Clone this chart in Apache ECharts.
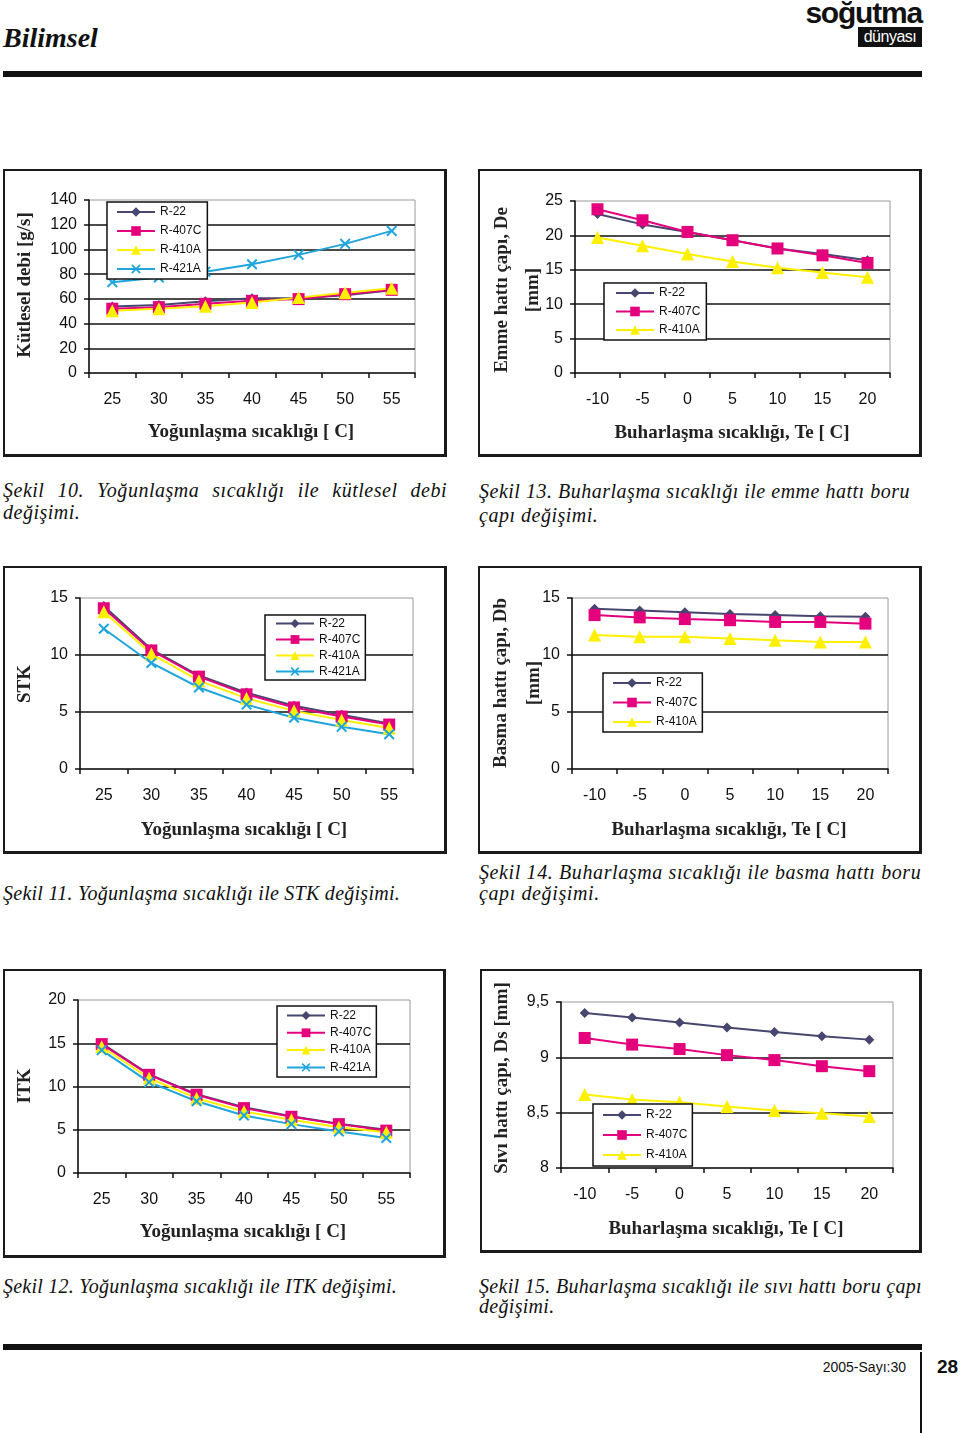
<!DOCTYPE html>
<html><head><meta charset="utf-8">
<script src="https://cdn.jsdelivr.net/npm/echarts@6/dist/echarts.min.js"></script>
<style>
html,body{margin:0;padding:0;background:#fff;}
#page{position:relative;width:960px;height:1433px;overflow:hidden;font-family:'Liberation Serif',serif;color:#111;}
.frame{position:absolute;border:2px solid #1a1a1a;border-right-width:3px;border-bottom-width:3px;box-sizing:border-box;background:#fff;}
.cap{position:absolute;font-style:italic;font-size:20px;line-height:22px;white-space:nowrap;color:#111;}
.j{text-align:justify;text-align-last:justify;}
.rule{position:absolute;background:#111;}
#chart{position:absolute;left:0;top:0;width:960px;height:1433px;}
</style></head>
<body><div id="page">
<div style="position:absolute;left:3px;top:20px;font:italic bold 28px 'Liberation Serif',serif;line-height:36px;">Bilimsel</div>
<div style="position:absolute;right:38px;top:-3px;font:bold 30px 'Liberation Sans',sans-serif;letter-spacing:-1.2px;line-height:32px;">soğutma</div>
<div style="position:absolute;left:858px;top:27px;width:64px;height:20px;background:#111;color:#fff;font:16px 'Liberation Sans',sans-serif;line-height:20px;text-align:center;letter-spacing:-0.5px;">dünyası</div>
<div class="rule" style="left:3px;top:71px;width:919px;height:6px;"></div>

<div class="frame" style="left:3px;top:169px;width:444px;height:288px;"></div>
<div class="frame" style="left:478px;top:169px;width:444px;height:288px;"></div>
<div class="frame" style="left:3px;top:566px;width:444px;height:288px;"></div>
<div class="frame" style="left:478px;top:566px;width:444px;height:288px;"></div>
<div class="frame" style="left:3px;top:969px;width:443px;height:289px;"></div>
<div class="frame" style="left:480px;top:969px;width:442px;height:284px;"></div>

<div id="c10a" class="cap j" data-ls="c13a" style="left:3px;top:479px;width:444px;">Şekil 10. Yoğunlaşma sıcaklığı ile kütlesel debi</div>
<div id="c10b" class="cap" data-ls="c13a" style="left:3px;top:501px;">değişimi.</div>
<div id="c13a" class="cap" data-fit="431" style="left:479px;top:480px;">Şekil 13. Buharlaşma sıcaklığı ile emme hattı boru</div>
<div id="c13b" class="cap" data-ls="c13a" style="left:479px;top:504px;">çapı değişimi.</div>
<div id="c11" class="cap" data-fit="397" style="left:3px;top:882px;">Şekil 11. Yoğunlaşma sıcaklığı ile STK değişimi.</div>
<div id="c14a" class="cap" data-fit="443" style="left:479px;top:861px;">Şekil 14.  Buharlaşma sıcaklığı ile basma hattı boru</div>
<div id="c14b" class="cap" data-ls="c14a" style="left:479px;top:882px;">çapı değişimi.</div>
<div id="c12" class="cap" data-fit="394" style="left:3px;top:1275px;">Şekil 12. Yoğunlaşma sıcaklığı ile ITK değişimi.</div>
<div id="c15a" class="cap" data-fit="443" style="left:479px;top:1275px;">Şekil 15. Buharlaşma sıcaklığı ile sıvı hattı boru çapı</div>
<div id="c15b" class="cap" data-ls="c15a" style="left:479px;top:1295px;">değişimi.</div>

<div class="rule" style="left:3px;top:1344px;width:919px;height:6px;"></div>
<div style="position:absolute;right:54px;top:1358px;font:14px 'Liberation Sans',sans-serif;line-height:18px;">2005-Sayı:30</div>
<div class="rule" style="left:920px;top:1352px;width:2px;height:81px;"></div>
<div style="position:absolute;left:937px;top:1355px;font:bold 19px 'Liberation Sans',sans-serif;line-height:24px;">28</div>

<div id="chart"></div>
</div>
<script>
// ---------- categories ----------
const condTemps = ['25', '30', '35', '40', '45', '50', '55'];
const evapTemps = ['-10', '-5', '0', '5', '10', '15', '20'];

// ---------- Şekil 10: Kütlesel debi [g/s] ----------
const massFlowR22   = [53.8, 55.0, 58.0, 60.5, 60.5, 63.0, 67.0];
const massFlowR407C = [52.0, 53.3, 56.0, 58.4, 59.8, 63.8, 67.3];
const massFlowR410A = [50.3, 52.0, 54.0, 57.0, 61.0, 65.0, 68.6];
const massFlowR421A = [73.5, 77.3, 82.0, 88.0, 95.6, 104.5, 115.0];

// ---------- Şekil 13: Emme hattı çapı De [mm] ----------
const suctionR22   = [23.1, 21.6, 20.5, 19.3, 18.1, 17.3, 16.4];
const suctionR407C = [23.8, 22.2, 20.5, 19.3, 18.1, 17.1, 16.0];
const suctionR410A = [19.7, 18.5, 17.3, 16.2, 15.3, 14.6, 13.9];

// ---------- Şekil 11: STK ----------
const stkR22   = [14.3, 10.5, 8.2, 6.7, 5.55, 4.75, 4.0];
const stkR407C = [14.1, 10.4, 8.1, 6.55, 5.4, 4.6, 3.9];
const stkR410A = [13.8, 10.1, 7.75, 6.2, 5.1, 4.3, 3.6];
const stkR421A = [12.3, 9.3, 7.15, 5.65, 4.5, 3.7, 3.05];

// ---------- Şekil 14: Basma hattı çapı Db [mm] ----------
const dischargeR22   = [14.05, 13.9, 13.75, 13.6, 13.5, 13.4, 13.35];
const dischargeR407C = [13.5, 13.3, 13.15, 13.05, 12.9, 12.9, 12.75];
const dischargeR410A = [11.75, 11.6, 11.6, 11.45, 11.3, 11.15, 11.15];

// ---------- Şekil 12: ITK ----------
const itkR22   = [15.0, 11.4, 9.1, 7.6, 6.55, 5.7, 5.0];
const itkR407C = [14.9, 11.35, 9.05, 7.5, 6.5, 5.65, 4.9];
const itkR410A = [14.6, 10.95, 8.65, 7.1, 6.15, 5.3, 4.7];
const itkR421A = [14.2, 10.5, 8.3, 6.65, 5.65, 4.8, 4.05];

// ---------- Şekil 15: Sıvı hattı çapı Ds [mm] ----------
const liquidR22   = [9.40, 9.36, 9.315, 9.27, 9.23, 9.19, 9.16];
const liquidR407C = [9.175, 9.115, 9.075, 9.02, 8.975, 8.92, 8.875];
const liquidR410A = [8.665, 8.62, 8.595, 8.555, 8.52, 8.495, 8.465];

// ---------- caption fitting (letter-spacing so each line spans its width) ----------
const lsMap = {};
document.querySelectorAll('.cap[data-fit]').forEach(el => {
  el.style.letterSpacing = '0px';
  const w = el.getBoundingClientRect().width;
  const n = el.textContent.length;
  const ls = (parseFloat(el.dataset.fit) - w) / n;
  lsMap[el.id] = ls;
  el.style.letterSpacing = ls + 'px';
});
document.querySelectorAll('.cap[data-ls]').forEach(el => {
  el.style.letterSpacing = (lsMap[el.dataset.ls] || 0) + 'px';
});

// ---------- styles ----------
const COLORS = {'R-22': '#46466f', 'R-407C': '#e4007c', 'R-410A': '#fff000', 'R-421A': '#1fa5dc'};
const SYMBOLS = {
  'R-22': 'diamond', 'R-407C': 'rect', 'R-410A': 'triangle',
  'R-421A': 'path://M0,1.3L1.3,0L5,3.7L8.7,0L10,1.3L6.3,5L10,8.7L8.7,10L5,6.3L1.3,10L0,8.7L3.7,5Z'
};
const SIZES = {'R-22': 10, 'R-407C': 12, 'R-410A': 13, 'R-421A': 11};

const charts = [
  { grid: {left: 89, top: 200, width: 326, height: 173}, cats: condTemps, min: 0, max: 140, interval: 20,
    series: [['R-22', massFlowR22], ['R-407C', massFlowR407C], ['R-410A', massFlowR410A], ['R-421A', massFlowR421A]],
    legend: {left: 107, top: 202, padding: [4, 6, 4, 9], itemHeight: 12, itemGap: 7},
    xTitle: {text: 'Yoğunlaşma sıcaklığı [ C]', x: 251, y: 432},
    yTitle: {text: 'Kütlesel debi [g/s]', x: 25, y: 285} },
  { grid: {left: 575, top: 201, width: 315, height: 172}, cats: evapTemps, min: 0, max: 25, interval: 5,
    series: [['R-22', suctionR22], ['R-407C', suctionR407C], ['R-410A', suctionR410A]],
    legend: {left: 604, top: 283, padding: [4, 6, 4, 11], itemHeight: 12, itemGap: 6.5},
    xTitle: {text: 'Buharlaşma sıcaklığı, Te [ C]', x: 732, y: 433},
    yTitle: {text: 'Emme hattı çapı, De\n[mm]', x: 518, y: 290, lineHeight: 31} },
  { grid: {left: 80, top: 598, width: 333, height: 171}, cats: condTemps, min: 0, max: 15, interval: 5,
    series: [['R-22', stkR22], ['R-407C', stkR407C], ['R-410A', stkR410A], ['R-421A', stkR421A]],
    legend: {left: 265, top: 615, padding: [2.5, 5, 2.5, 10], itemHeight: 11, itemGap: 4},
    xTitle: {text: 'Yoğunlaşma sıcaklığı [ C]', x: 244, y: 830},
    yTitle: {text: 'STK', x: 25, y: 684} },
  { grid: {left: 572, top: 598, width: 316, height: 171}, cats: evapTemps, min: 0, max: 15, interval: 5,
    series: [['R-22', dischargeR22], ['R-407C', dischargeR407C], ['R-410A', dischargeR410A]],
    legend: {left: 603, top: 673, padding: [4, 5, 4, 9], itemHeight: 12, itemGap: 7.5},
    xTitle: {text: 'Buharlaşma sıcaklığı, Te [ C]', x: 729, y: 830},
    yTitle: {text: 'Basma hattı çapı, Db\n[mm]', x: 517.5, y: 683, lineHeight: 33} },
  { grid: {left: 78, top: 1000, width: 332, height: 173}, cats: condTemps, min: 0, max: 20, interval: 5,
    series: [['R-22', itkR22], ['R-407C', itkR407C], ['R-410A', itkR410A], ['R-421A', itkR421A]],
    legend: {left: 277, top: 1006, padding: [3.5, 5, 3.5, 9], itemHeight: 11, itemGap: 5.3},
    xTitle: {text: 'Yoğunlaşma sıcaklığı [ C]', x: 243, y: 1232},
    yTitle: {text: 'ITK', x: 25, y: 1086} },
  { grid: {left: 561, top: 1002, width: 332, height: 166}, cats: evapTemps, min: 8, max: 9.5, interval: 0.5,
    series: [['R-22', liquidR22], ['R-407C', liquidR407C], ['R-410A', liquidR410A]],
    legend: {left: 593, top: 1104, padding: [5, 5, 5, 9], itemHeight: 12, itemGap: 8},
    xTitle: {text: 'Buharlaşma sıcaklığı, Te [ C]', x: 726, y: 1229},
    yTitle: {text: 'Sıvı hattı çapı, Ds [mm]', x: 502.5, y: 1078} }
];

const AXIS_COLOR = '#111';
const option = {
  animation: false, backgroundColor: 'transparent',
  grid: [], xAxis: [], yAxis: [], series: [], legend: [], graphic: []
};
const titleStyle = {fontFamily: 'Liberation Serif', fontWeight: 'bold', fontSize: 19, fill: '#222', align: 'center', verticalAlign: 'middle'};

charts.forEach((c, i) => {
  option.grid.push(Object.assign({show: true, backgroundColor: '#fff', borderColor: '#9a9a9a', borderWidth: 1,
    containLabel: false, outerBoundsMode: 'none'}, c.grid));
  option.xAxis.push({
    type: 'category', gridIndex: i, data: c.cats, boundaryGap: true,
    axisLine: {show: true, lineStyle: {color: AXIS_COLOR, width: 1.5}},
    axisTick: {show: true, length: 5, lineStyle: {color: AXIS_COLOR, width: 1.5}},
    axisLabel: {margin: 19, color: '#111', fontSize: 16, fontFamily: 'Liberation Sans', interval: 0},
    splitLine: {show: false}
  });
  option.yAxis.push({
    type: 'value', gridIndex: i, min: c.min, max: c.max, interval: c.interval,
    axisLine: {show: true, lineStyle: {color: AXIS_COLOR, width: 1.5}},
    axisTick: {show: true, length: 5, lineStyle: {color: AXIS_COLOR, width: 1.5}},
    axisLabel: {margin: 12, color: '#111', fontSize: 16, fontFamily: 'Liberation Sans',
      formatter: v => String(v).replace('.', ',')},
    splitLine: {show: true, showMinLine: false, showMaxLine: false, lineStyle: {color: AXIS_COLOR, width: 1.5}}
  });
  c.series.forEach(([name, data]) => {
    option.series.push({
      type: 'line', name, xAxisIndex: i, yAxisIndex: i, data,
      symbol: SYMBOLS[name], symbolSize: SIZES[name], showSymbol: true,
      lineStyle: {color: COLORS[name], width: 2},
      itemStyle: {color: COLORS[name]},
      emphasis: {disabled: true}, silent: true
    });
  });
  option.legend.push({
    data: c.series.map(s => s[0]), left: c.legend.left, top: c.legend.top, orient: 'vertical',
    padding: c.legend.padding, itemWidth: 38, itemHeight: c.legend.itemHeight, itemGap: c.legend.itemGap,
    borderColor: '#111', borderWidth: 1.5, backgroundColor: '#fff', borderRadius: 0,
    selectedMode: false, align: 'left',
    textStyle: {fontSize: 12, fontFamily: 'Liberation Sans', color: '#111'}
  });
  option.graphic.push({type: 'text', x: c.xTitle.x, y: c.xTitle.y, z: 100,
    style: Object.assign({}, titleStyle, {text: c.xTitle.text})});
  option.graphic.push({type: 'text', x: c.yTitle.x, y: c.yTitle.y, rotation: Math.PI / 2, z: 100,
    style: Object.assign({}, titleStyle, {text: c.yTitle.text, lineHeight: c.yTitle.lineHeight || 22})});
});

const chart = echarts.init(document.getElementById('chart'), null, {renderer: 'canvas'});
chart.setOption(option);
</script>
</body></html>
